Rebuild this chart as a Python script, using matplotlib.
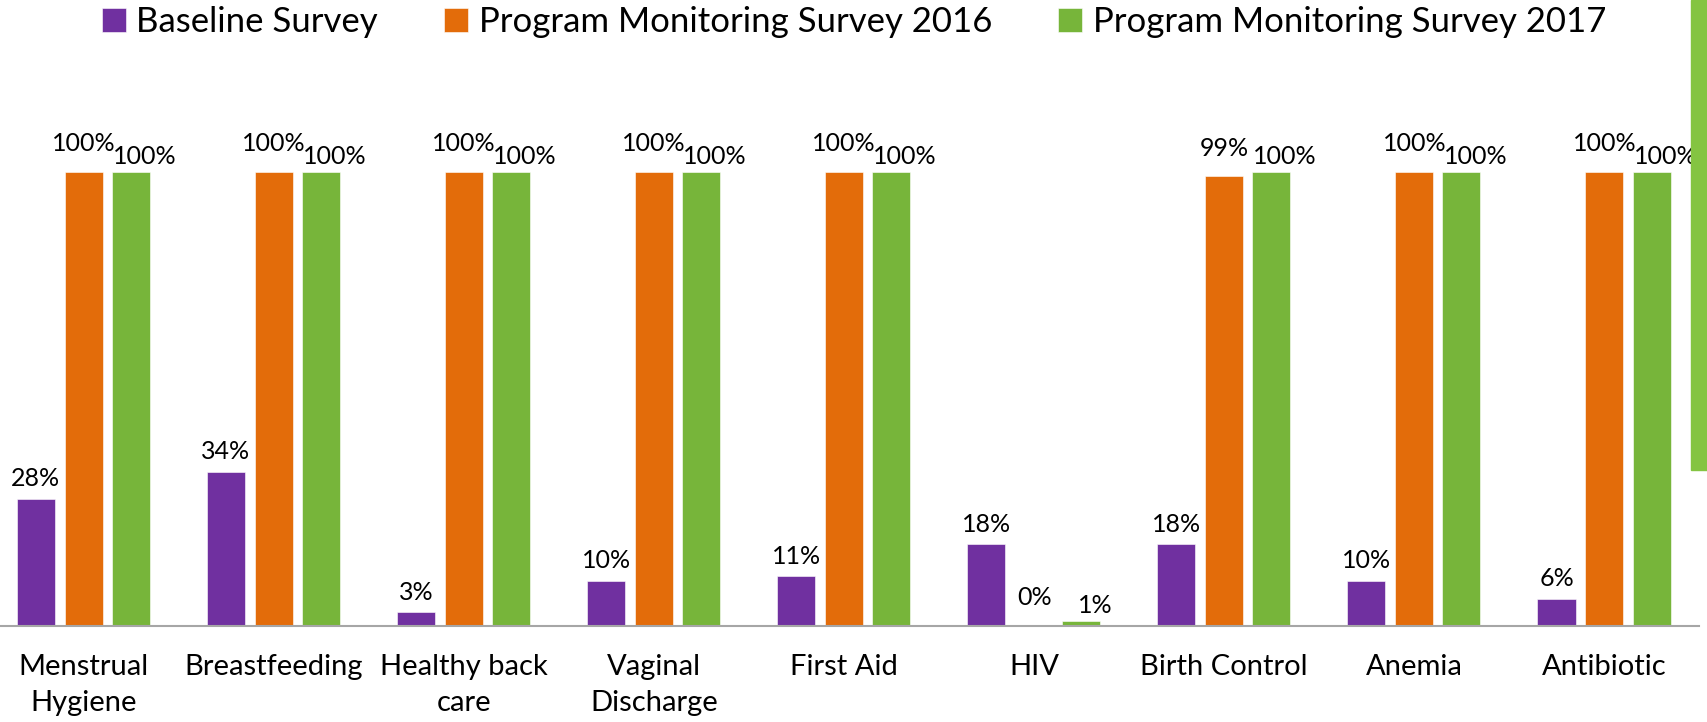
import matplotlib
matplotlib.use("Agg")
import matplotlib.pyplot as plt
import numpy as np
from matplotlib.patches import Rectangle

categories = ["Menstrual\nHygiene", "Breastfeeding", "Healthy back\ncare", "Vaginal\nDischarge",
              "First Aid", "HIV", "Birth Control", "Anemia", "Antibiotic"]
series_names = ["Baseline Survey", "Program Monitoring Survey 2016", "Program Monitoring Survey 2017"]
baseline = [28, 34, 3, 10, 11, 18, 18, 10, 6]
pms2016 = [100, 100, 100, 100, 100, 0, 99, 100, 100]
pms2017 = [100, 100, 100, 100, 100, 1, 100, 100, 100]

colors = ["#7030A0", "#E36C0A", "#77B53A"]
plt.rcParams['font.family'] = ['Lato', 'DejaVu Sans']

fig = plt.figure(figsize=(17.08, 7.22), dpi=100)
ax = fig.add_axes([0.0, 0.133, 0.995, 0.755])

x = np.arange(len(categories))
width = 0.2
offsets = [-0.252, 0.0, 0.248]
# label offsets in points (dx, dy)
lab_off = [(0, 6), (0, 12), (10, 3)]
for vals, off, col, name, lo in zip([baseline, pms2016, pms2017], offsets, colors, series_names, lab_off):
    bars = ax.bar(x + off, vals, width, color=col, label=name, edgecolor="white", linewidth=0.4, zorder=2)
    for b, v in zip(bars, vals):
        ax.annotate(f"{v}%", (b.get_x() + b.get_width() / 2, b.get_height()),
                    xytext=lo, textcoords="offset points", ha="center", va="bottom",
                    fontsize=18, color="black")

ax.set_xlim(-0.44, 8.5)
ax.set_ylim(0, 120)
ax.set_xticks(x)
ax.set_xticklabels(categories, fontsize=21, linespacing=1.5)
ax.tick_params(axis="x", length=0, pad=20)
ax.set_yticks([])
for s in ["top", "right", "left"]:
    ax.spines[s].set_visible(False)
ax.spines["bottom"].set_color("#A6A6A6")
ax.spines["bottom"].set_linewidth(1.5)

leg = fig.legend(loc="upper center", bbox_to_anchor=(0.5, 1.035), ncol=3, frameon=False,
                 fontsize=25, handlelength=0.7, handleheight=0.7, handletextpad=0.3,
                 columnspacing=1.9)

# clipped green shape at right edge
fig.patches.append(Rectangle((1691 / 1708, 1 - 470 / 722), 17 / 1708, 470 / 722,
                             transform=fig.transFigure, color="#84C441", zorder=0))

fig.savefig("out.png", dpi=100)
